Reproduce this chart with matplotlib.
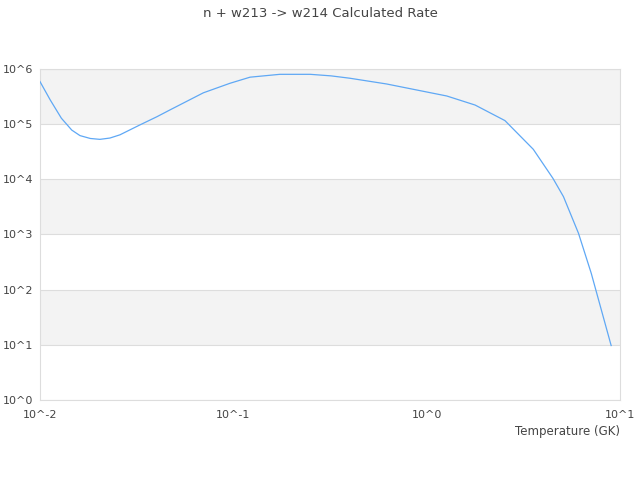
import matplotlib
matplotlib.use("Agg")
import matplotlib.pyplot as plt
from matplotlib.ticker import FixedLocator, FixedFormatter, NullLocator

# data
temperature = [0.01, 0.0113, 0.0129, 0.0146, 0.0161, 0.0182, 0.0204, 0.023, 0.0259,
               0.0329, 0.0402, 0.047, 0.07, 0.096, 0.122, 0.174, 0.25, 0.32, 0.40,
               0.62, 1.27, 1.78, 2.54, 3.56, 4.5, 5.1, 6.1, 7.1, 9.0]
rate = [5.9e5, 2.74e5, 1.28e5, 7.8e4, 6.2e4, 5.5e4, 5.3e4, 5.6e4, 6.4e4,
        9.7e4, 1.36e5, 1.81e5, 3.7e5, 5.5e5, 7.1e5, 8.0e5, 8.0e5, 7.5e5, 6.8e5,
        5.35e5, 3.24e5, 2.22e5, 1.16e5, 3.5e4, 1.04e4, 4.85e3, 1.05e3, 198, 9.7]
x_ticks = [1e-2, 1e-1, 1e0, 1e1]
x_labels = ["10^-2", "10^-1", "10^0", "10^1"]
y_ticks = [1e0, 1e1, 1e2, 1e3, 1e4, 1e5, 1e6]
y_labels = ["10^0", "10^1", "10^2", "10^3", "10^4", "10^5", "10^6"]

fig = plt.figure(figsize=(6.4, 4.8), dpi=100)
ax = fig.add_axes([0.0625, 0.1667, 0.90625, 0.6896])
ax.set_xscale("log")
ax.set_yscale("log")
ax.set_xlim(1e-2, 1e1)
ax.set_ylim(1e0, 1e6)

# alternating bands
for lo in [1e1, 1e3, 1e5]:
    ax.axhspan(lo, lo * 10, color="#f3f3f3", zorder=0, lw=0)

ax.plot(temperature, rate, color="#5fa8f5", lw=0.9, zorder=3)

ax.yaxis.set_major_locator(FixedLocator(y_ticks))
ax.yaxis.set_major_formatter(FixedFormatter(y_labels))
ax.xaxis.set_major_locator(FixedLocator(x_ticks))
ax.xaxis.set_major_formatter(FixedFormatter(x_labels))
ax.xaxis.set_minor_locator(NullLocator())
ax.yaxis.set_minor_locator(NullLocator())
ax.grid(axis="y", color="#dddddd", lw=0.8, zorder=1)
ax.tick_params(axis="both", length=0, labelsize=8, labelcolor="#444444")
# y labels start near the left edge of the figure
ax.tick_params(axis="y", pad=27)
for lab in ax.get_yticklabels():
    lab.set_horizontalalignment("left")
ax.tick_params(axis="x", pad=7)

for s in ax.spines.values():
    s.set_color("#dddddd")
    s.set_linewidth(0.8)

ax.set_xlabel("Temperature (GK)", fontsize=8.5, color="#444444")
ax.xaxis.set_label_coords(1.0, -0.075)
ax.xaxis.label.set_horizontalalignment("right")

fig.suptitle("n + w213 -> w214 Calculated Rate", fontsize=9.5, color="#444444", y=0.985)

plt.savefig("out.png", dpi=100)
